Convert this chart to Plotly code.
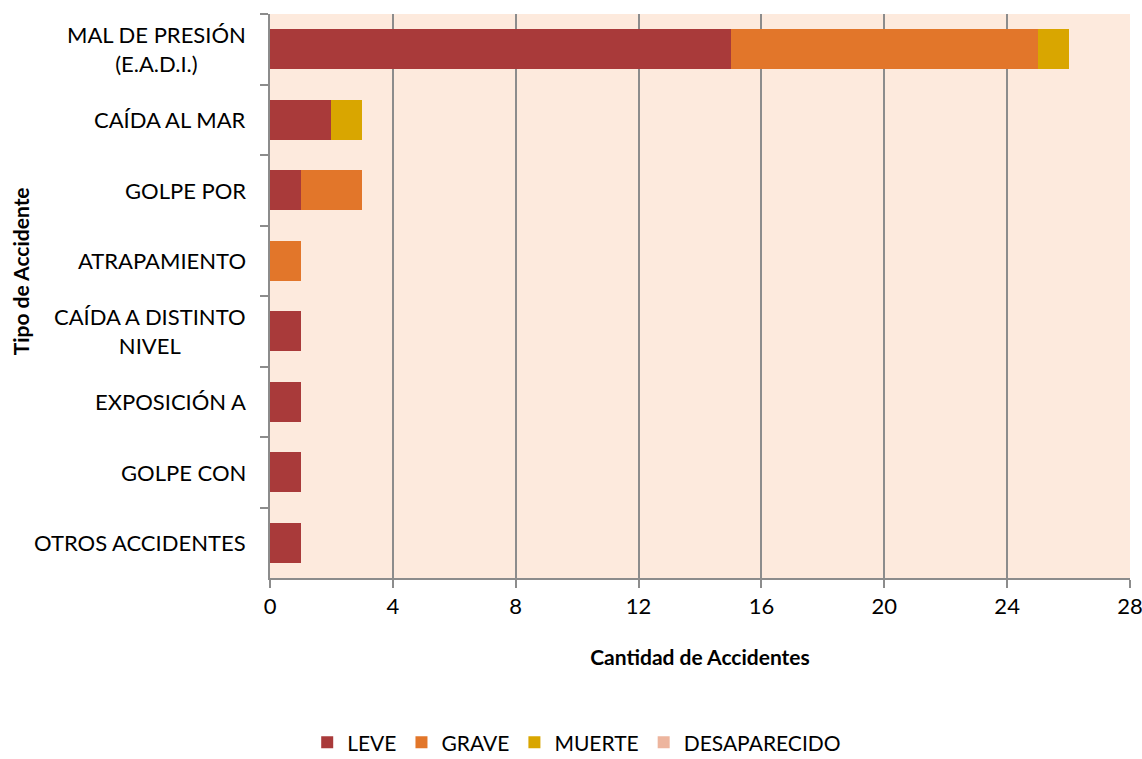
import plotly.graph_objects as go

tipos = [
    "MAL DE PRESIÓN<br>(E.A.D.I.)",
    "CAÍDA AL MAR",
    "GOLPE POR",
    "ATRAPAMIENTO",
    "CAÍDA A DISTINTO<br>NIVEL",
    "EXPOSICIÓN A",
    "GOLPE CON",
    "OTROS ACCIDENTES",
]
leve = [15, 2, 1, 0, 1, 1, 1, 1]
grave = [10, 0, 2, 1, 0, 0, 0, 0]
muerte = [1, 1, 0, 0, 0, 0, 0, 0]
desaparecido = [0, 0, 0, 0, 0, 0, 0, 0]

series = [
    ("LEVE", leve, "#A93A3A"),
    ("GRAVE", grave, "#E2762A"),
    ("MUERTE", muerte, "#D9A600"),
    ("DESAPARECIDO", desaparecido, "#EDB59E"),
]

fuente = "Lato, Open Sans, sans-serif"

fig = go.Figure()
for nombre, valores, color in series:
    fig.add_trace(go.Bar(
        y=tipos, x=valores, name=nombre, orientation="h",
        marker=dict(color=color, line=dict(width=0)),
    ))

# etiquetas de categoria centradas (como en Excel)
for t in tipos:
    fig.add_annotation(
        x=0, xref="paper", xanchor="right", xshift=-22,
        y=t, yref="y", text=t, showarrow=False, align="center",
        font=dict(size=22, color="#000000", family=fuente),
    )

fig.update_layout(
    barmode="stack",
    bargap=0.43,
    width=1142, height=759,
    margin=dict(l=270, r=12, t=14, b=181, autoexpand=False),
    paper_bgcolor="white",
    plot_bgcolor="#FDEADD",
    font=dict(family=fuente, size=22, color="#000000"),
    showlegend=True,
    legend=dict(
        orientation="h", x=0.505, xref="container", xanchor="center",
        y=-0.292, yref="paper", yanchor="middle",
        font=dict(size=21), traceorder="normal", itemwidth=30,
    ),
    xaxis=dict(
        range=[0, 28], dtick=4, tick0=0,
        showgrid=True, gridcolor="#8C8C8C", gridwidth=2,
        zeroline=False, automargin=False, ticklabeloverflow="allow",
        showline=True, linecolor="#8C8C8C", linewidth=2,
        ticks="outside", ticklen=8, tickwidth=2, tickcolor="#8C8C8C",
        tickfont=dict(size=22),
        title=dict(text="<b>Cantidad de Accidentes</b>", font=dict(size=21), standoff=32),
    ),
    yaxis=dict(
        autorange="reversed",
        showticklabels=False, automargin=False,
        showline=True, linecolor="#8C8C8C", linewidth=2,
        ticks="outside", tickson="boundaries", ticklen=8, tickwidth=2, tickcolor="#8C8C8C",
        showgrid=False,
    ),
)

fig.add_annotation(
    x=-0.29, xref="paper", xanchor="center", yref="paper", y=0.543,
    text="<b>Tipo de Accidente</b>", textangle=-90, showarrow=False,
    font=dict(size=21, family=fuente),
)

fig.write_html(
    "out.html",
    config={"displayModeBar": False},
    post_script="document.body.style.margin='0';",
)
